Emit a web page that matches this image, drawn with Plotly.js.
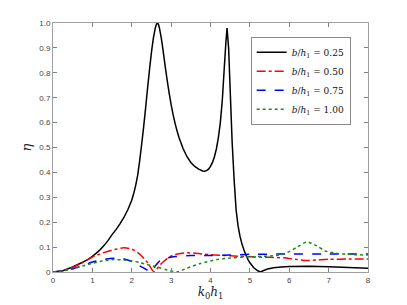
<!DOCTYPE html>
<html>
<head>
<meta charset="utf-8">
<script src="https://cdn.plot.ly/plotly-3.0.1.min.js"></script>
<style>html,body{margin:0;padding:0;background:#fff;}#chart{width:407px;height:305px;}</style>
</head>
<body>
<div id="chart"></div>
<script>
// b/h1 = 0.25
var x025 = [0,0.25,0.5,0.75,0.9,1.0,1.1,1.2,1.3,1.4,1.5,1.6,1.7,1.8,1.9,2.0,2.05,2.1,2.15,2.2,2.25,2.3,2.35,2.4,2.45,2.5,2.55,2.6,2.63,2.655,2.68,2.7,2.75,2.8,2.85,2.9,2.95,3.0,3.05,3.1,3.15,3.2,3.3,3.4,3.5,3.6,3.7,3.8,3.85,3.9,3.95,4.0,4.05,4.1,4.15,4.2,4.25,4.3,4.35,4.39,4.42,4.46,4.5,4.55,4.6,4.65,4.7,4.75,4.8,4.85,4.9,4.95,5.0,5.1,5.2,5.27,5.35,5.45,5.6,5.8,6.0,6.5,7,7.5,8];
var y025 = [0,0.005,0.02,0.039,0.052,0.063,0.076,0.09,0.107,0.127,0.15,0.17,0.193,0.219,0.25,0.288,0.315,0.348,0.388,0.445,0.51,0.58,0.655,0.735,0.812,0.882,0.94,0.982,0.996,1.0,0.994,0.982,0.94,0.885,0.825,0.77,0.718,0.672,0.632,0.597,0.567,0.54,0.497,0.464,0.44,0.424,0.413,0.406,0.405,0.407,0.413,0.424,0.44,0.463,0.495,0.54,0.6,0.69,0.82,0.92,0.98,0.9,0.73,0.52,0.37,0.25,0.185,0.143,0.112,0.088,0.068,0.051,0.037,0.017,0.005,0,0.006,0.012,0.017,0.02,0.022,0.023,0.021,0.018,0.015];
// b/h1 = 0.50
var x050 = [0,0.25,0.5,0.75,1,1.25,1.5,1.8,2,2.2,2.4,2.57,2.7,2.81,2.95,3.1,3.4,3.7,4,4.5,5,5.5,5.85,6.2,6.45,6.7,7,7.5,8];
var y050 = [0,0.005,0.018,0.038,0.06,0.076,0.088,0.097,0.092,0.072,0.038,0,0.025,0.042,0.06,0.07,0.077,0.074,0.069,0.065,0.061,0.059,0.057,0.05,0.046,0.048,0.051,0.052,0.052];
// b/h1 = 0.75
var x075 = [0,0.25,0.5,0.75,1,1.25,1.6,1.8,2,2.2,2.4,2.48,2.6,2.72,2.9,3.1,3.5,4,4.5,5,6,7,8];
var y075 = [0,0.004,0.013,0.026,0.04,0.05,0.055,0.052,0.042,0.025,0.007,0,0.025,0.045,0.056,0.062,0.066,0.066,0.068,0.071,0.072,0.072,0.072];
// b/h1 = 1.00
var x100 = [0,0.25,0.5,0.75,1,1.25,1.55,1.8,2,2.2,2.47,2.7,2.9,3.15,3.4,3.74,4.16,4.5,4.84,5.2,5.5,5.8,6.0,6.2,6.45,6.7,6.9,7.2,7.6,8];
var y100 = [0,0.004,0.012,0.024,0.035,0.044,0.05,0.048,0.045,0.038,0.027,0.017,0.008,0,0.015,0.034,0.05,0.056,0.06,0.062,0.064,0.07,0.082,0.1,0.121,0.105,0.085,0.075,0.07,0.068];

var xTicks = [0,1,2,3,4,5,6,7,8];
var yTicks = [0,0.1,0.2,0.3,0.4,0.5,0.6,0.7,0.8,0.9,1.0];
var yTickText = ['0','0.1','0.2','0.3','0.4','0.5','0.6','0.7','0.8','0.9','1.0'];
var names = ['<i>b</i>/<i>h</i><sub>1</sub> = 0.25','<i>b</i>/<i>h</i><sub>1</sub> = 0.50','<i>b</i>/<i>h</i><sub>1</sub> = 0.75','<i>b</i>/<i>h</i><sub>1</sub> = 1.00'];

var traces = [
  {x:x025,y:y025,name:names[0],mode:'lines',line:{color:'#000000',width:1.5,shape:'linear',simplify:false}},
  {x:x050,y:y050,name:names[1],mode:'lines',line:{color:'#ff0000',width:1.5,dash:'dashdot',shape:'spline',smoothing:0.6,simplify:false}},
  {x:x075,y:y075,name:names[2],mode:'lines',line:{color:'#0000ff',width:1.5,dash:'dash',shape:'spline',smoothing:0.6,simplify:false}},
  {x:x100,y:y100,name:names[3],mode:'lines',line:{color:'#1a8a1a',width:1.5,dash:'dot',shape:'spline',smoothing:0.6,simplify:false}}
];

var axisCommon = {
  showgrid:false, zeroline:false, showline:true, mirror:'ticks',
  linecolor:'#a0a0a0', linewidth:1, ticks:'inside', ticklen:4, tickcolor:'#808080',
  tickfont:{family:'Liberation Sans, Arial, sans-serif', size:8, color:'#444444'}
};

var layout = {
  width:407, height:305,
  margin:{l:53, r:39, t:23, b:33},
  paper_bgcolor:'#ffffff', plot_bgcolor:'#ffffff',
  showlegend:true,
  xaxis:Object.assign({}, axisCommon, {range:[0,8], tickvals:xTicks, ticktext:xTicks.map(String),
    title:{text:'<i>k</i><sub>0</sub><i>h</i><sub>1</sub>', font:{family:'DejaVu Serif, Liberation Serif, serif', size:12, color:'#222'}, standoff:4}}),
  yaxis:Object.assign({}, axisCommon, {range:[0,1], tickvals:yTicks, ticktext:yTickText,
    title:{text:'<i>η</i>', font:{family:'DejaVu Serif, Liberation Serif, serif', size:13, color:'#222'}, standoff:4}}),
  legend:{x:0.945, y:0.945, xanchor:'right', yanchor:'top', bgcolor:'#ffffff', bordercolor:'#8a8a8a', borderwidth:1,
    font:{family:'DejaVu Serif, Liberation Serif, serif', size:9, color:'#111'}, tracegroupgap:0, itemwidth:30}
};

Plotly.newPlot('chart', traces, layout, {staticPlot:true, displayModeBar:false});
</script>
</body>
</html>
